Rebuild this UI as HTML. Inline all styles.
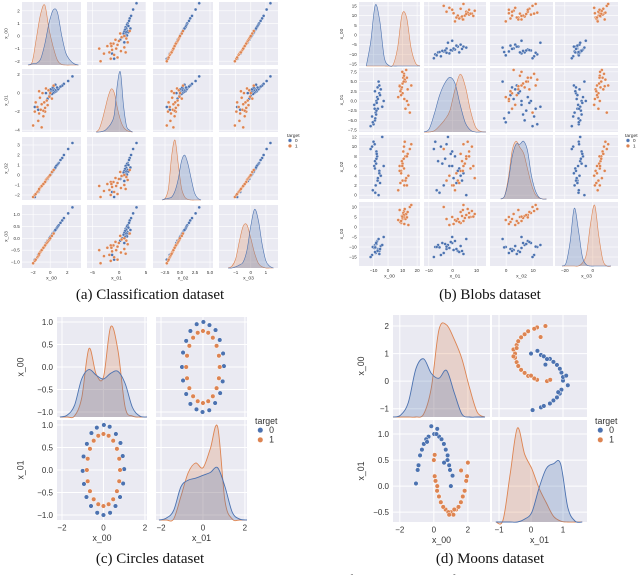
<!DOCTYPE html>
<html><head><meta charset="utf-8">
<style>
html,body{margin:0;padding:0;background:#fff;width:640px;height:575px;overflow:hidden}
svg{display:block}
.tk{font-family:"Liberation Sans",sans-serif;fill:#333}
.cap{font-family:"Liberation Serif",serif;fill:#111}
</style></head>
<body>
<svg id="fig" width="640" height="575" viewBox="0 0 640 575" xmlns="http://www.w3.org/2000/svg">
<text class="cap" x="150" y="299" font-size="15" text-anchor="middle">(a) Classification dataset</text>
<text class="cap" x="490" y="299" font-size="15" text-anchor="middle">(b) Blobs dataset</text>
<text class="cap" x="150" y="563" font-size="15" text-anchor="middle">(c) Circles dataset</text>
<text class="cap" x="490" y="563" font-size="15" text-anchor="middle">(d) Moons dataset</text>
<text class="cap" x="320" y="585" font-size="15" text-anchor="middle">Fig. 4. Pairwise bivariate distributions of Scikit-learn artificial datasets</text>
</svg>
<script>
// ---------- Classification data ----------
const clsA0_x00=[2.6,2.1,1.6,1.4,1.2,1.0,0.9,0.8,0.7,0.6,0.5,0.4,0.35,0.3,0.2,0.1,0.05,0.0,-0.1,-0.3,-0.5,-1.4,-1.8,0.6,0.3];
const clsA0_x01=[1.8,1.3,1.0,0.8,0.7,0.5,0.4,0.6,0.2,0.3,0.1,0.5,0.0,0.3,-0.1,0.2,0.4,0.1,-0.3,-0.6,0.0,-1.8,-1.5,0.9,0.6];
const clsA0_x02=[3.2,2.6,2.0,1.7,1.5,1.2,1.1,1.0,0.9,0.7,0.6,0.5,0.4,0.35,0.25,0.1,0.05,0.0,-0.1,-0.4,-0.6,-1.7,-2.2,0.75,0.35];
const clsA0_x03=[1.3,1.05,0.85,0.75,0.65,0.55,0.5,0.45,0.4,0.35,0.3,0.25,0.22,0.2,0.15,0.1,0.08,0.05,0.0,-0.1,-0.2,-0.7,-0.9,0.35,0.2];
const clsA1_x00=[-2.0,-1.8,-1.7,-1.5,-1.4,-1.3,-1.2,-1.1,-1.0,-0.9,-0.8,-0.7,-0.6,-0.5,-0.4,-0.3,-0.2,-0.1,0.0,0.2,0.4,-1.0,-0.6,-0.8,-1.3];
const clsA1_x01=[-3.5,-2.0,-1.0,-1.5,-3.0,-2.2,-0.5,-1.8,-1.2,0.0,-2.5,-1.0,-1.6,0.5,-0.8,-1.3,0.3,-0.4,0.0,-0.6,0.8,-3.7,-2.0,-1.9,0.2];
const clsA1_x02=[-2.2,-2.0,-1.9,-1.7,-1.6,-1.5,-1.3,-1.2,-1.1,-1.0,-0.9,-0.8,-0.7,-0.5,-0.4,-0.3,-0.2,-0.1,0.0,0.3,0.5,-1.1,-0.7,-0.9,-1.4];
const clsA1_x03=[-1.05,-0.95,-0.9,-0.8,-0.75,-0.7,-0.6,-0.55,-0.5,-0.45,-0.4,-0.35,-0.3,-0.25,-0.2,-0.15,-0.1,-0.05,0.0,0.1,0.2,-0.5,-0.3,-0.4,-0.65];
const kdeA0=[[0,0.02,0.03,0.1,0.35,0.7,0.92,0.88,0.5,0.2,0.08,0.02,0],[0,0,0.01,0.03,0.08,0.15,0.3,0.8,1.0,0.45,0.1,0.03,0],[0,0.02,0.03,0.05,0.15,0.35,0.65,0.75,0.6,0.35,0.12,0.03,0],[0,0,0.02,0.05,0.1,0.3,0.7,0.98,0.8,0.4,0.12,0.03,0]];
const kdeA1=[[0,0.05,0.45,0.85,1.0,0.6,0.3,0.08,0.01,0,0,0,0],[0,0.05,0.2,0.4,0.6,0.72,0.65,0.4,0.2,0.08,0.03,0.01,0],[0,0.03,0.2,0.75,1.0,0.6,0.2,0.05,0.01,0,0,0,0],[0,0.03,0.15,0.45,0.7,0.72,0.5,0.25,0.08,0.02,0,0,0]];
// ---------- Blobs data ----------
const blbB0_x00=[-9,-7,-8,-6,-10,-8.5,-7.5,-5,-9.5,-11,-6.5,-8,-7,-4,-9,-10.5,-7.8,-6,-8.2,-12,-5.5,-9.2,-7.2,-3,-8.8];
const blbB0_x01=[-5,-2,0,2,-6,-3,1,3,-1,-4,5,-2.5,0.5,-1.5,2.5,-5.5,-0.5,4,-3.5,-6.5,1.5,-2,3.5,0,-4.5];
const blbB0_x02=[7,3,9,5,11,2,8,4,6,10,0,7.5,3.5,12,5.5,1,8.5,4.5,6.5,9.5,2.5,10.5,3,6,0.5];
const blbB0_x03=[-9,-11,-8,-12,-10,-13,-7,-9.5,-10.5,-14,-6,-8.5,-11.5,-9,-12.5,-10,-7.5,-13.5,-8,-15,-11,-9.8,-12,-5,-10.2];
const blbB1_x00=[10,12,9,11,13,8,10.5,14,9.5,11.5,7,12.5,10,15,8.5,11,13.5,9,10.8,12,16,9.8,11.2,8,13];
const blbB1_x01=[2,5,3,7,0,4,6,-1,3.5,5.5,1,8,4.5,-3,2.5,6.5,3,1.5,5,-2,4,7.5,0.5,3.8,6];
const blbB1_x02=[3,8,5,10,2,6,9,4,7,11,1,3.5,6.5,9.5,2.5,5.5,8.5,4.5,7.5,3,10.5,6,2,5,8];
const blbB1_x03=[4,6,2,8,5,3,7,1,5.5,9,3.5,6.5,4.5,10,2.5,5,7.5,3,6,4,11,5.2,1.5,8.5,4.8];
const kdeB0=[[0,0.4,1.0,0.75,0.15,0.01,0,0,0,0,0,0,0],[0,0.05,0.3,0.6,0.8,0.9,0.8,0.45,0.15,0.03,0,0,0],[0,0.05,0.3,0.7,0.9,0.9,0.95,0.8,0.4,0.15,0.03,0,0],[0,0.05,0.4,0.95,0.6,0.15,0.02,0,0,0,0,0,0]];
const kdeB1=[[0,0,0,0,0,0,0.02,0.3,0.85,0.8,0.3,0.05,0],[0,0,0.02,0.1,0.2,0.35,0.7,0.95,0.75,0.35,0.08,0.01,0],[0,0.05,0.35,0.8,0.95,0.85,0.75,0.5,0.25,0.08,0.02,0,0],[0,0,0,0,0,0.05,0.2,0.7,1.0,0.5,0.1,0,0]];
// ---------- Circles data ----------
const cirC0_x00=[1.0,0.93,0.82,0.6,0.3,0.02,-0.32,-0.58,-0.8,-0.96,-1.0,-0.94,-0.82,-0.6,-0.3,0.0,0.32,0.58,0.8,0.95];
const cirC0_x01=[0.02,0.31,0.6,0.8,0.96,1.0,0.94,0.82,0.58,0.3,-0.02,-0.31,-0.6,-0.8,-0.95,-1.0,-0.95,-0.8,-0.6,-0.3];
const cirC1_x00=[0.8,0.76,0.65,0.47,0.25,0.0,-0.25,-0.47,-0.65,-0.76,-0.8,-0.76,-0.65,-0.47,-0.25,0.0,0.25,0.47,0.65,0.76];
const cirC1_x01=[0.0,0.25,0.47,0.65,0.76,0.8,0.76,0.65,0.47,0.25,0.0,-0.25,-0.47,-0.65,-0.76,-0.8,-0.76,-0.65,-0.47,-0.25];
const kdeC0=[[0,0.02,0.12,0.4,0.5,0.44,0.4,0.46,0.48,0.35,0.1,0.01,0],[0,0.02,0.1,0.35,0.42,0.44,0.47,0.5,0.55,0.35,0.08,0.01,0]];
const kdeC1=[[0,0,0.01,0.2,0.72,0.45,0.42,0.95,0.7,0.1,0.01,0,0],[0,0,0.01,0.25,0.5,0.6,0.55,0.75,0.98,0.2,0.01,0,0]];
// ---------- Moons data ----------
const monD0_x00=[1.0,0.95,0.81,0.59,0.31,0.02,-0.31,-0.59,-0.81,-0.95,-1.05,0.9,0.7,0.45,0.15,-0.15,-0.45,-0.7,-0.9,0.2,-0.4,0.8,1.1,0.6];
const monD0_x01=[0.0,0.31,0.59,0.81,0.95,1.0,0.95,0.81,0.59,0.31,0.05,0.4,0.7,0.9,1.0,1.15,0.9,0.7,0.4,1.1,0.85,0.5,0.2,0.45];
const monD1_x00=[0.0,0.05,0.19,0.41,0.69,1.0,1.31,1.59,1.81,1.95,2.0,0.1,0.3,0.55,0.85,1.15,1.45,1.7,1.9,0.9,1.2,0.2,1.6,0.05];
const monD1_x01=[0.5,0.19,-0.09,-0.31,-0.45,-0.5,-0.45,-0.31,-0.09,0.19,0.45,0.1,-0.2,-0.4,-0.5,-0.55,-0.4,-0.2,0.1,-0.55,-0.45,0.0,0.3,0.6];
const kdeD0=[[0,0.02,0.15,0.5,0.6,0.45,0.4,0.48,0.25,0.03,0,0,0],[0,0,0,0,0.03,0.1,0.35,0.55,0.6,0.6,0.15,0.01,0]];
const kdeD1=[[0,0,0,0,0.03,0.3,0.9,0.95,0.8,0.6,0.3,0.05,0],[0,0.02,0.5,0.97,0.7,0.55,0.35,0.2,0.06,0.01,0,0,0]];

const BLUE="#4c72b0", ORANGE="#dd8452", NS="http://www.w3.org/2000/svg";
const svg=document.getElementById('fig');
function mk(tag,attrs,parent){const e=document.createElementNS(NS,tag);for(const k in attrs)e.setAttribute(k,attrs[k]);(parent||svg).appendChild(e);return e;}
function sc(v,r,a,b){return a+(v-r[0])/(r[1]-r[0])*(b-a);}
function smooth(pts){let d="M"+pts[0][0]+","+pts[0][1];for(let i=0;i<pts.length-1;i++){const p0=pts[Math.max(0,i-1)],p1=pts[i],p2=pts[i+1],p3=pts[Math.min(pts.length-1,i+2)];
 d+=" C"+(p1[0]+(p2[0]-p0[0])/6)+","+(p1[1]+(p2[1]-p0[1])/6)+" "+(p2[0]-(p3[0]-p1[0])/6)+","+(p2[1]-(p3[1]-p1[1])/6)+" "+p2[0]+","+p2[1];}return d;}
function fmt(v,d){return (v<0?"\u2212":"")+Math.abs(v).toFixed(d);}

function pairplot(c){
 const g=mk('g',{});
 
 
 const n=c.vars.length;
 for(let i=0;i<n;i++)for(let j=0;j<n;j++){
  const [x0,x1]=c.cols[j],[y0,y1]=c.rows[i];
  const vx=c.vars[j],vy=c.vars[i];
  const sxr=(i===j)?vx.xr:(vx.sx||vx.xr);
  const p=mk('g',{},g);
  
  
  mk('rect',{x:x0,y:y0,width:x1-x0,height:y1-y0,fill:'#eaeaf2'},p);
  vx.xt.forEach(t=>{const X=sc(t,vx.xr,x0,x1);mk('line',{x1:X,x2:X,y1:y0,y2:y1,stroke:'#fff','stroke-width':c.gw},p);});
  vy.yt.forEach(t=>{const Y=sc(t,vy.yr,y1,y0);mk('line',{x1:x0,x2:x1,y1:Y,y2:Y,stroke:'#fff','stroke-width':c.gw},p);});
  if(i===j){
   [[c.kde[1][i],ORANGE],[c.kde[0][i],BLUE]].forEach(([h,col],ci)=>{
    const pts=h.map((v,k)=>[sc(vx.kg[0]+(vx.kg[1]-vx.kg[0])*k/(h.length-1),vx.xr,x0,x1),y1-v*(y1-y0)*0.95]);
    const d=smooth(pts);
    const a=mk('path',{d:d+" L"+pts[pts.length-1][0]+","+y1+" L"+pts[0][0]+","+y1+" Z",fill:col,'fill-opacity':0.25,stroke:'none'},p);
    
    
    const l=mk('path',{d:d,fill:'none',stroke:col,'stroke-width':c.lw},p);
    
    
   });
  } else {
   [[c.data[0],BLUE,'class0'],[c.data[1],ORANGE,'class1']].forEach(([d,col,nm])=>{
    d[j].forEach((xv,k)=>{const yv=d[i][k];
     const pt=mk('circle',{cx:sc(xv,sxr,x0,x1),cy:sc(yv,vy.yr,y1,y0),r:c.pr,fill:col,stroke:'#fff','stroke-width':c.pr*0.2},p);
     
     
    });
   });
  }
  if(j===0){
   vy.yt.forEach(t=>{const Y=sc(t,vy.yr,y1,y0);const tx=mk('text',{x:x0-c.fs*0.5,y:Y+c.fs*0.35,'font-size':c.fs,'text-anchor':'end',class:'tk'},g);tx.textContent=fmt(t,vy.yd);
     });
   const ly=(y0+y1)/2,lx=x0-c.fs*(c.yoff);
   const yt=mk('text',{x:lx,y:ly,'font-size':c.fs*1.1,'text-anchor':'middle',class:'tk',transform:`rotate(-90 ${lx} ${ly})`},g);yt.textContent=vy.name;
   
  }
  if(i===n-1){
   vx.xt.forEach(t=>{const X=sc(t,vx.xr,x0,x1);const tx=mk('text',{x:X,y:y1+c.fs*1.3,'font-size':c.fs,'text-anchor':'middle',class:'tk'},g);tx.textContent=fmt(t,vx.xd);
     });
   const xt=mk('text',{x:(x0+x1)/2,y:y1+c.fs*2.6,'font-size':c.fs*1.1,'text-anchor':'middle',class:'tk'},g);xt.textContent=vx.name;
   
  }
 }
 const lg=mk('g',{},g);
 
 
 const [lx,ly]=c.leg,f=c.fs*1.1;
 const t=mk('text',{x:lx,y:ly,'font-size':f,class:'tk'},lg);t.textContent='target';
 [[BLUE,'0'],[ORANGE,'1']].forEach(([col,lab],k)=>{
  const yy=ly+f*(1.0+k*1.1);
  const e=mk('g',{},lg);
  
  
  mk('circle',{cx:lx+f*0.6,cy:yy-f*0.3,r:c.pr*1.2,fill:col,stroke:'#fff','stroke-width':c.pr*0.2},e);
  const tt=mk('text',{x:lx+f*1.6,y:yy,'font-size':f,class:'tk'},e);tt.textContent=lab;
 });
}

pairplot({name:'classification-pairplot',cols:[[22,81],[87,146],[153,213],[219,278]],rows:[[2,65],[69,132],[137,200],[205,268]],
 fs:4.5,pr:1.5,gw:0.6,lw:0.6,yoff:3.2,leg:[287,137],
 vars:[{name:'x_00',xr:[-3.3,3.6],yr:[-2.3,2.7],xt:[-2,0,2],yt:[-2,-1,0,1,2],xd:0,yd:0,kg:[-2.6,3.3]},
       {name:'x_01',xr:[-6,5],sx:[-5.5,3.2],yr:[-4.2,2.6],xt:[-5,0,5],yt:[-4,-2,0,2],xd:0,yd:0,kg:[-4.3,2.5]},
       {name:'x_02',xr:[-4.5,5.5],yr:[-2.5,3.8],xt:[-2.5,0,2.5,5],yt:[-2,-1,0,1,2,3],xd:1,yd:0,kg:[-3,3.5]},
       {name:'x_03',xr:[-2.1,1.8],yr:[-1.25,1.4],xt:[-1,0,1],yt:[-1,-0.5,0,0.5,1],xd:0,yd:1,kg:[-1.5,1.5]}],
 data:[[clsA0_x00,clsA0_x01,clsA0_x02,clsA0_x03],[clsA1_x00,clsA1_x01,clsA1_x02,clsA1_x03]],kde:[kdeA0,kdeA1]});

pairplot({name:'blobs-pairplot',cols:[[359,420],[424,486],[490,553],[555,618]],rows:[[2,66],[68,132],[135,199],[202,266]],
 fs:4.5,pr:1.5,gw:0.6,lw:0.6,yoff:3.6,leg:[625,137],
 vars:[{name:'x_00',xr:[-20,22],yr:[-16,17],xt:[-10,0,10,20],yt:[-15,-10,-5,0,5,10,15],xd:0,yd:0,kg:[-15,22]},
       {name:'x_01',xr:[-12,14],sx:[-10,12],yr:[-8,8.5],xt:[-10,0,10],yt:[-7.5,-5,-2.5,0,2.5,5,7.5],xd:0,yd:1,kg:[-12,14]},
       {name:'x_02',xr:[-6,17.4],sx:[-4,16],yr:[-0.8,12.4],xt:[0,10],yt:[0,2,4,6,8,10,12],xd:0,yd:0,kg:[-2,15]},
       {name:'x_03',xr:[-27,18],yr:[-19.5,12.5],xt:[-20,0],yt:[-15,-10,-5,0,5,10],xd:0,yd:0,kg:[-22,13]}],
 data:[[blbB0_x00,blbB0_x01,blbB0_x02,blbB0_x03],[blbB1_x00,blbB1_x01,blbB1_x02,blbB1_x03]],kde:[kdeB0,kdeB1]});

pairplot({name:'circles-pairplot',cols:[[57,147],[156,247]],rows:[[317,417],[420,520]],
 fs:8,pr:2.3,gw:1,lw:0.9,yoff:4.2,leg:[255,424],
 vars:[{name:'x_00',xr:[-2.24,2.1],yr:[-1.11,1.11],xt:[-2,0,2],yt:[-1,-0.5,0,0.5,1],xd:0,yd:1,kg:[-2.1,2.1]},
       {name:'x_01',xr:[-2.24,2.1],yr:[-1.11,1.11],xt:[-2,0,2],yt:[-1,-0.5,0,0.5,1],xd:0,yd:1,kg:[-2.1,2.1]}],
 data:[[cirC0_x00,cirC0_x01],[cirC1_x00,cirC1_x01]],kde:[kdeC0,kdeC1]});

pairplot({name:'moons-pairplot',cols:[[393,490],[492,587]],rows:[[315,417],[420,522]],
 fs:8,pr:2.3,gw:1,lw:0.9,yoff:3.6,leg:[595,424],
 vars:[{name:'x_00',xr:[-2.4,3.3],yr:[-1.3,2.4],xt:[-2,0,2],yt:[-1,0,1,2],xd:0,yd:0,kg:[-2.4,3]},
       {name:'x_01',xr:[-1.22,1.75],yr:[-0.69,1.27],xt:[-1,0,1],yt:[-0.5,0,0.5,1],xd:0,yd:1,kg:[-1.1,1.6]}],
 data:[[monD0_x00,monD0_x01],[monD1_x00,monD1_x01]],kde:[kdeD0,kdeD1]});
</script>
</body></html>
